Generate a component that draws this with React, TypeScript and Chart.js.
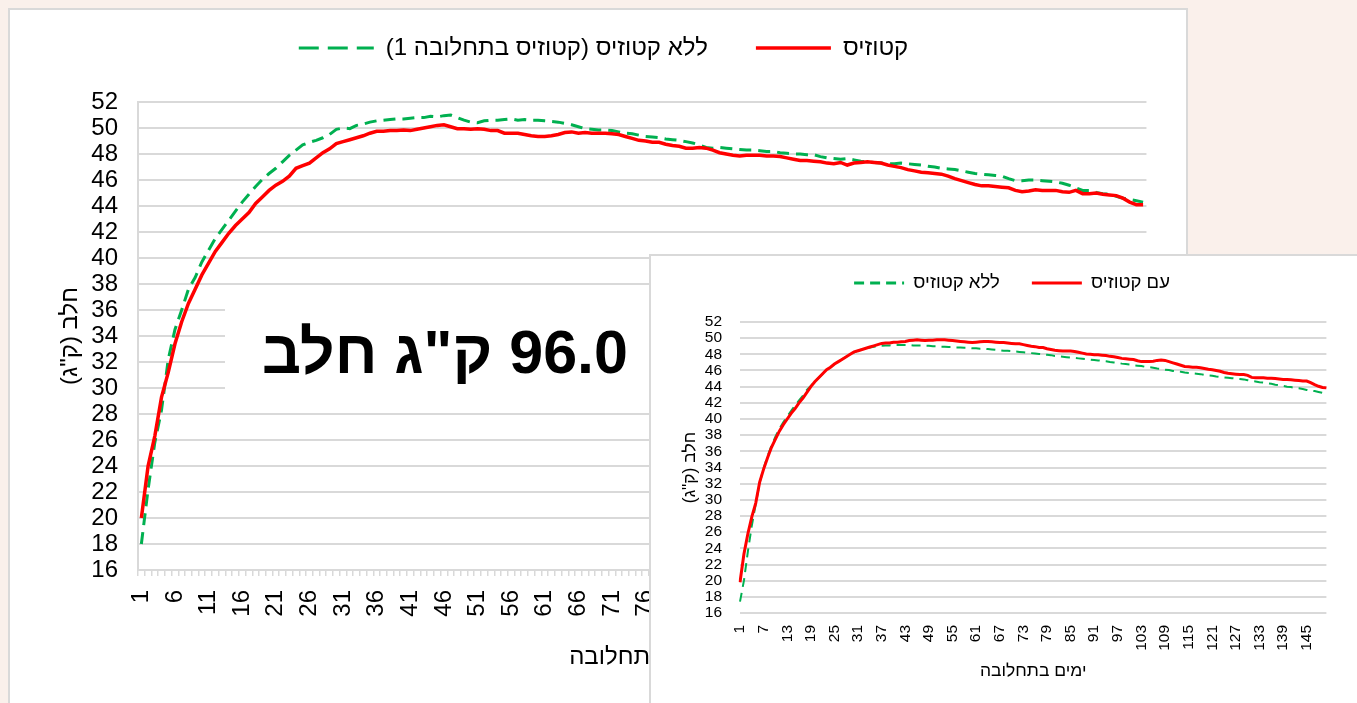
import { useEffect, useRef } from "react";
import { Chart, registerables } from "chart.js";

Chart.register(...registerables);

// ---- data ----
const DAYS: number[] = Array.from({ length: 150 }, (_, i) => i + 1);

const MAIN_KETOSIS = [
  20.0, 24.0, 26.3, 29.3, 31.2, 33.4, 35.1, 36.5, 37.6, 38.7,
  39.6, 40.5, 41.2, 41.9, 42.5, 43.0, 43.5, 44.2, 44.7, 45.2,
  45.6, 45.9, 46.3, 46.9, 47.1, 47.3, 47.7, 48.1, 48.4, 48.8,
  48.95, 49.1, 49.25, 49.4, 49.6, 49.75, 49.75, 49.8, 49.8, 49.85,
  49.8, 49.9, 50.0, 50.1, 50.2, 50.25, 50.1, 49.95, 49.95, 49.9,
  49.95, 49.9, 49.8, 49.8, 49.6, 49.6, 49.6, 49.5, 49.4, 49.35,
  49.35, 49.4, 49.5, 49.65, 49.7, 49.6, 49.65, 49.6, 49.6, 49.6,
  49.55, 49.5, 49.35, 49.2, 49.05, 49.0, 48.9, 48.9, 48.75, 48.65,
  48.6, 48.45, 48.45, 48.5, 48.45, 48.3, 48.1, 48.0, 47.9, 47.85,
  47.9, 47.9, 47.9, 47.85, 47.85, 47.8, 47.7, 47.6, 47.5, 47.5,
  47.45, 47.4, 47.3, 47.25, 47.35, 47.15, 47.3, 47.35, 47.4, 47.35,
  47.3, 47.15, 47.05, 46.95, 46.8, 46.7, 46.6, 46.55, 46.5, 46.45,
  46.3, 46.1, 45.95, 45.8, 45.65, 45.55, 45.55, 45.5, 45.45, 45.4,
  45.2, 45.1, 45.15, 45.25, 45.2, 45.2, 45.2, 45.1, 45.05, 45.2,
  44.95, 44.95, 45.0, 44.9, 44.85, 44.8, 44.6, 44.3, 44.1, 44.1,
];

const MAIN_NO_KETOSIS = [
  18.0, 22.2, 25.8, 28.3, 32.2, 34.5, 36.0, 37.6, 38.5, 39.7,
  40.6, 41.5, 42.2, 42.9, 43.6, 44.3, 44.9, 45.5, 46.05, 46.5,
  46.9, 47.4, 47.9, 48.3, 48.7, 48.9, 49.05, 49.25, 49.5, 49.9,
  50.0, 49.95, 50.2, 50.3, 50.45, 50.55, 50.6, 50.65, 50.7, 50.7,
  50.75, 50.8, 50.8, 50.9, 50.85, 50.95, 51.0, 50.8, 50.6, 50.45,
  50.4, 50.55, 50.6, 50.6, 50.65, 50.7, 50.6, 50.65, 50.6, 50.6,
  50.55, 50.5, 50.45, 50.35, 50.25, 50.1, 49.95, 49.9, 49.85, 49.85,
  49.8, 49.7, 49.6, 49.55, 49.45, 49.35, 49.3, 49.25, 49.15, 49.1,
  49.05, 48.95, 48.85, 48.7, 48.5, 48.45, 48.5, 48.45, 48.4, 48.35,
  48.3, 48.3, 48.25, 48.2, 48.2, 48.1, 48.05, 48.0, 48.0, 47.95,
  47.95, 47.8, 47.7, 47.65, 47.6, 47.65, 47.55, 47.45, 47.4, 47.35,
  47.3, 47.25, 47.25, 47.3, 47.25, 47.2, 47.15, 47.05, 47.0, 46.9,
  46.85, 46.8, 46.7, 46.6, 46.5, 46.45, 46.4, 46.35, 46.3, 46.1,
  45.95, 45.95, 46.0, 46.0, 45.95, 45.9, 45.85, 45.75, 45.6, 45.4,
  45.2, 45.2, 45.05, 44.95, 44.9, 44.75, 44.6, 44.5, 44.4, 44.3,
];

const INSET_KETOSIS = [
  19.8, 23.3, 25.8, 27.9, 29.6, 32.2, 33.8, 35.2, 36.5, 37.5,
  38.5, 39.3, 40.0, 40.7, 41.3, 42.0, 42.6, 43.3, 44.0, 44.6,
  45.1, 45.6, 46.1, 46.4, 46.8, 47.1, 47.4, 47.7, 48.0, 48.3,
  48.45, 48.6, 48.75, 48.9, 49.05, 49.2, 49.35, 49.4, 49.4, 49.5,
  49.5, 49.55, 49.6, 49.7, 49.75, 49.8, 49.75, 49.7, 49.75, 49.75,
  49.8, 49.8, 49.8, 49.75, 49.7, 49.65, 49.6, 49.55, 49.5, 49.45,
  49.5, 49.55, 49.6, 49.6, 49.55, 49.5, 49.45, 49.45, 49.4, 49.35,
  49.3, 49.3, 49.2, 49.1, 49.0, 48.95, 48.85, 48.85, 48.7, 48.6,
  48.5, 48.45, 48.4, 48.4, 48.4, 48.35, 48.25, 48.15, 48.05, 48.0,
  47.95, 47.95, 47.9, 47.85, 47.75, 47.7, 47.6, 47.5, 47.45, 47.4,
  47.35, 47.2, 47.1, 47.1, 47.1, 47.15, 47.25, 47.3, 47.25, 47.1,
  46.95, 46.8, 46.65, 46.5, 46.45, 46.4, 46.4, 46.35, 46.25, 46.15,
  46.1, 46.0, 45.9, 45.75, 45.65, 45.6, 45.55, 45.5, 45.5, 45.4,
  45.15, 45.1, 45.1, 45.1, 45.05, 45.05, 45.0, 44.95, 44.9, 44.9,
  44.85, 44.8, 44.75, 44.7, 44.7, 44.5, 44.25, 44.05, 43.9, 43.85,
];

const INSET_NO_KETOSIS = [
  17.4, 20.0, 23.6, 26.8, 29.5, 32.1, 33.9, 35.4, 36.7, 37.8,
  38.8, 39.6, 40.3, 41.0, 41.7, 42.3, 42.9, 43.6, 44.1, 44.6,
  45.1, 45.6, 46.0, 46.4, 46.8, 47.1, 47.4, 47.7, 48.0, 48.25,
  48.45, 48.6, 48.75, 48.85, 48.95, 49.0, 49.05, 49.1, 49.1, 49.15,
  49.15, 49.15, 49.15, 49.15, 49.1, 49.1, 49.1, 49.05, 49.05, 49.0,
  49.0, 48.95, 48.95, 48.9, 48.9, 48.85, 48.85, 48.8, 48.8, 48.75,
  48.75, 48.7, 48.7, 48.65, 48.6, 48.55, 48.5, 48.45, 48.45, 48.4,
  48.35, 48.3, 48.25, 48.2, 48.15, 48.1, 48.05, 48.0, 47.95, 47.9,
  47.8, 47.75, 47.7, 47.65, 47.6, 47.55, 47.5, 47.45, 47.4, 47.35,
  47.3, 47.25, 47.2, 47.15, 47.05, 47.0, 46.95, 46.85, 46.8, 46.75,
  46.65, 46.6, 46.55, 46.45, 46.4, 46.35, 46.25, 46.2, 46.1, 46.05,
  45.95, 45.9, 45.85, 45.75, 45.7, 45.65, 45.6, 45.55, 45.45, 45.4,
  45.35, 45.25, 45.2, 45.15, 45.1, 45.05, 45.0, 44.95, 44.9, 44.8,
  44.7, 44.65, 44.55, 44.5, 44.4, 44.35, 44.25, 44.2, 44.1, 44.0,
  43.95, 43.85, 43.8, 43.7, 43.6, 43.5, 43.45, 43.35, 43.25, 43.2,
];

const Y_MIN = 16;
const Y_MAX = 52;
const Y_STEP = 2;
const MAIN_LABEL_EVERY = 5;
const INSET_LABEL_EVERY = 6;

const MAIN_SERIES_KETOSIS = "קטוזיס";
const MAIN_SERIES_NO_KETOSIS = "ללא קטוזיס (קטוזיס בתחלובה 1)";
const INSET_SERIES_KETOSIS = "עם קטוזיס";
const INSET_SERIES_NO_KETOSIS = "ללא קטוזיס";
const X_TITLE = "ימים בתחלובה";
const Y_TITLE = 'חלב (ק"ג)';
const BIG_TEXT = '96.0 ק"ג חלב';

const FONT = "'Liberation Sans', Arial, sans-serif";
const RED = "#ff0000";
const GREEN = "#00b050";
const GRID = "#d9d9d9";

function legendLabels(legendDash: number[], minWidth: number) {
  return (chart: any) => {
    const base = (Chart.defaults as any).plugins.legend.labels.generateLabels(chart);
    return base.map((item: any) => {
      const ds: any = chart.data.datasets[item.datasetIndex];
      return {
        ...item,
        lineDash: ds.borderDash ? legendDash : [],
        lineWidth: Math.max(ds.borderWidth, minWidth),
        strokeStyle: ds.borderColor,
        fillStyle: ds.borderColor,
      };
    });
  };
}

function mainConfig(): any {
  return {
    type: "line",
    data: {
      labels: DAYS.map(String),
      datasets: [
        {
          label: MAIN_SERIES_KETOSIS,
          data: MAIN_KETOSIS,
          borderColor: RED,
          backgroundColor: RED,
          borderWidth: 3.5,
          pointRadius: 0,
          tension: 0,
        },
        {
          label: MAIN_SERIES_NO_KETOSIS,
          data: MAIN_NO_KETOSIS,
          borderColor: GREEN,
          backgroundColor: GREEN,
          borderWidth: 3,
          borderDash: [12, 7],
          pointRadius: 0,
          tension: 0,
        },
      ],
    },
    options: {
      responsive: false,
      animation: false,
      events: [],
      layout: { padding: { top: -22, left: 42, right: 31, bottom: 27 } },
      plugins: {
        legend: {
          reverse: true,
          labels: {
            usePointStyle: true,
            pointStyle: "line",
            pointStyleWidth: 75,
            padding: 48,
            color: "#000",
            font: { family: FONT, size: 24 },
            generateLabels: legendLabels([20, 9], 3),
          },
        },
        subtitle: {
          display: true,
          text: "",
          position: "top",
          weight: 500,
          font: { size: 10, lineHeight: 1 },
          padding: { top: 0, bottom: 22 },
        },
        tooltip: { enabled: false },
      },
      scales: {
        x: {
          type: "category",
          offset: true,
          grid: {
            display: true,
            drawOnChartArea: false,
            drawTicks: true,
            tickLength: 6,
            color: GRID,
            lineWidth: 1.5,
            offset: true,
          },
          border: { display: true, color: GRID, width: 2 },
          ticks: {
            autoSkip: false,
            minRotation: 90,
            maxRotation: 90,
            padding: 14,
            color: "#000",
            font: { family: FONT, size: 24 },
            callback: function (_v: any, i: number) {
              return i % MAIN_LABEL_EVERY === 0 ? String(DAYS[i]) : "";
            },
          },
          title: {
            display: true,
            text: X_TITLE,
            color: "#000",
            font: { family: FONT, size: 24 },
            padding: { top: 4, bottom: 4 },
          },
          afterFit: (s: any) => {
            s.height = 106;
          },
        },
        y: {
          min: Y_MIN,
          max: Y_MAX,
          ticks: {
            stepSize: Y_STEP,
            autoSkip: false,
            padding: 20,
            color: "#000",
            font: { family: FONT, size: 24 },
          },
          grid: { color: GRID, lineWidth: 2, drawTicks: false },
          border: { display: true, color: GRID, width: 2 },
          title: {
            display: true,
            text: Y_TITLE,
            color: "#000",
            font: { family: FONT, size: 24 },
            padding: { top: 4, bottom: 4 },
          },
          afterFit: (s: any) => {
            s.width = 86;
          },
        },
      },
    },
  };
}

function insetConfig(): any {
  return {
    type: "line",
    data: {
      labels: DAYS.map(String),
      datasets: [
        {
          label: INSET_SERIES_KETOSIS,
          data: INSET_KETOSIS,
          borderColor: RED,
          backgroundColor: RED,
          borderWidth: 3,
          pointRadius: 0,
          tension: 0,
        },
        {
          label: INSET_SERIES_NO_KETOSIS,
          data: INSET_NO_KETOSIS,
          borderColor: GREEN,
          backgroundColor: GREEN,
          borderWidth: 2,
          borderDash: [9, 6],
          pointRadius: 0,
          tension: 0,
        },
      ],
    },
    options: {
      responsive: false,
      animation: false,
      events: [],
      layout: { padding: { top: -14.25, left: 25, right: 9, bottom: 17 } },
      plugins: {
        legend: {
          reverse: true,
          labels: {
            usePointStyle: true,
            pointStyle: "line",
            pointStyleWidth: 50,
            padding: 32,
            color: "#000",
            font: { family: FONT, size: 18.5 },
            generateLabels: legendLabels([10, 6], 3),
          },
        },
        subtitle: {
          display: true,
          text: "",
          position: "top",
          weight: 500,
          font: { size: 10, lineHeight: 1 },
          padding: { top: 0, bottom: 9.75 },
        },
        tooltip: { enabled: false },
      },
      scales: {
        x: {
          type: "category",
          offset: false,
          grid: { display: false, drawTicks: false },
          border: { display: false },
          ticks: {
            autoSkip: false,
            minRotation: 90,
            maxRotation: 90,
            padding: 12,
            color: "#000",
            font: { family: FONT, size: 15.5 },
            callback: function (_v: any, i: number) {
              return i % INSET_LABEL_EVERY === 0 ? String(DAYS[i]) : "";
            },
          },
          title: {
            display: true,
            text: X_TITLE,
            color: "#000",
            font: { family: FONT, size: 17.5 },
            padding: { top: 4, bottom: 4 },
          },
          afterFit: (s: any) => {
            s.height = 73;
          },
        },
        y: {
          min: Y_MIN,
          max: Y_MAX,
          ticks: {
            stepSize: Y_STEP,
            autoSkip: false,
            padding: 18,
            color: "#000",
            font: { family: FONT, size: 15.5 },
          },
          grid: { color: GRID, lineWidth: 2, drawTicks: false },
          border: { display: false },
          title: {
            display: true,
            text: Y_TITLE,
            color: "#000",
            font: { family: FONT, size: 17.5 },
            padding: { top: 4, bottom: 4 },
          },
          afterFit: (s: any) => {
            s.width = 64;
          },
        },
      },
    },
  };
}

export default function App() {
  const mainRef = useRef<HTMLCanvasElement>(null);
  const insetRef = useRef<HTMLCanvasElement>(null);

  useEffect(() => {
    const a = new Chart(mainRef.current as HTMLCanvasElement, mainConfig());
    const b = new Chart(insetRef.current as HTMLCanvasElement, insetConfig());
    return () => {
      a.destroy();
      b.destroy();
    };
  }, []);

  return (
    <div
      style={{
        position: "fixed",
        left: 0,
        top: 0,
        width: 1357,
        height: 703,
        overflow: "hidden",
        background: "#faf0eb",
      }}
    >
      <div
        style={{
          position: "absolute",
          left: 8,
          top: 8,
          width: 1176,
          height: 720,
          background: "#fff",
          border: `2px solid ${GRID}`,
        }}
      >
        <canvas
          ref={mainRef}
          width={1176}
          height={693}
          dir="rtl"
          style={{ display: "block" }}
        />
      </div>
      <div
        style={{
          position: "absolute",
          left: 225,
          top: 298,
          width: 440,
          height: 102,
          background: "#fff",
        }}
      />
      <div
        dir="rtl"
        style={{
          position: "absolute",
          left: 200,
          top: 320,
          width: 428,
          textAlign: "right",
          fontFamily: FONT,
          fontWeight: "bold",
          fontSize: 61,
          lineHeight: "65px",
          color: "#000",
          whiteSpace: "nowrap",
        }}
      >
        {BIG_TEXT}
      </div>
      <div
        style={{
          position: "absolute",
          left: 649,
          top: 254,
          width: 720,
          height: 470,
          background: "#fff",
          borderLeft: `2px solid ${GRID}`,
          borderTop: `2px solid ${GRID}`,
        }}
      >
        <canvas
          ref={insetRef}
          width={706}
          height={447}
          dir="rtl"
          style={{ display: "block" }}
        />
      </div>
    </div>
  );
}
